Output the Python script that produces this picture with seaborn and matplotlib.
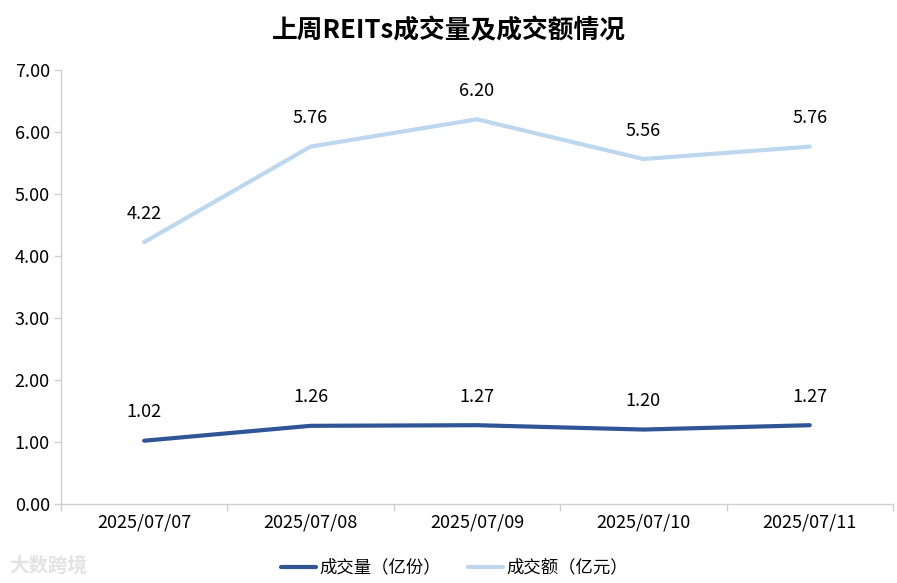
import pandas as pd
import numpy as np
import matplotlib
matplotlib.use("Agg")
import matplotlib.pyplot as plt
import seaborn as sns

# data
dates = ["2025/07/07", "2025/07/08", "2025/07/09", "2025/07/10", "2025/07/11"]
volume = [1.02, 1.26, 1.27, 1.20, 1.27]      # 成交量（亿份）
turnover = [4.22, 5.76, 6.20, 5.56, 5.76]    # 成交额（亿元）
series_names = ["成交量（亿份）", "成交额（亿元）"]
colors = ["#2F5597", "#BDD7EE"]

sns.set_theme(style="white")
plt.rcParams['font.family'] = ['Noto Sans CJK SC', 'DejaVu Sans']
plt.rcParams['text.color'] = 'black'
plt.rcParams['xtick.color'] = 'black'
plt.rcParams['ytick.color'] = 'black'

df = pd.DataFrame({
    "x": list(range(len(dates))) * 2,
    "value": volume + turnover,
    "series": [series_names[0]] * len(dates) + [series_names[1]] * len(dates),
})

fig = plt.figure(figsize=(8.97, 5.83), dpi=100)
ax = fig.add_axes([0.068, 0.1355, 0.9275, 0.745])

sns.lineplot(data=df, x="x", y="value", hue="series", palette=colors,
             linewidth=3, ax=ax, legend=True)

# data labels above each point
for i in range(len(dates)):
    ax.annotate(f"{volume[i]:.2f}", (i, volume[i]), xytext=(0, 14),
                textcoords="offset points", ha="center", va="bottom", fontsize=13)
    ax.annotate(f"{turnover[i]:.2f}", (i, turnover[i]), xytext=(0, 14),
                textcoords="offset points", ha="center", va="bottom", fontsize=13)

ax.set_xlim(-0.5, len(dates) - 0.5)
ax.set_ylim(0, 7)
ax.set_yticks(np.arange(0, 7.01, 1))
ax.set_yticklabels([f"{v:.2f}" for v in np.arange(0, 7.01, 1)], fontsize=13)
ax.set_xticks(range(len(dates)))
ax.set_xticklabels(dates, fontsize=13)
ax.set_xticks(np.arange(-0.5, len(dates), 1), minor=True)
ax.tick_params(axis="x", which="major", length=0, pad=7)
ax.tick_params(axis="x", which="minor", length=5, color="#D0D0D0", width=1, direction="out")
ax.tick_params(axis="y", length=5, color="#D0D0D0", width=1, direction="out", pad=3)
ax.xaxis.set_tick_params(which="minor", bottom=True)
ax.yaxis.set_tick_params(left=True)
ax.set_xlabel("")
ax.set_ylabel("")

for side in ["top", "right"]:
    ax.spines[side].set_visible(False)
for side in ["left", "bottom"]:
    ax.spines[side].set_color("#D0D0D0")
    ax.spines[side].set_linewidth(1)

fig.suptitle("上周REITs成交量及成交额情况", fontsize=18.5, fontweight="bold", y=0.97)

handles, labels = ax.get_legend_handles_labels()
ax.legend(handles, labels, loc="upper center", bbox_to_anchor=(0.473, -0.09),
          ncol=2, frameon=False, fontsize=12.5, handlelength=2.0,
          handletextpad=0.2, columnspacing=1.6)

# watermark
fig.text(0.01, 0.02, "大数跨境", fontsize=14, color="#E3E3E3", fontweight="bold")

fig.savefig("out.png", dpi=100)
